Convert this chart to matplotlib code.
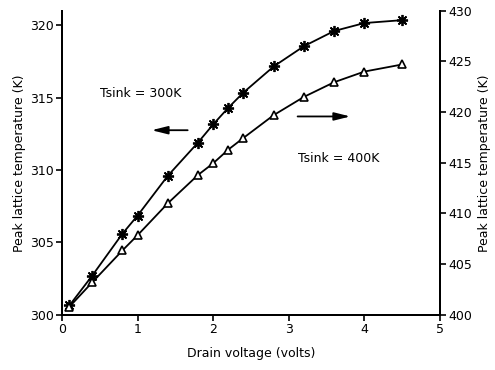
import matplotlib
matplotlib.use("Agg")
import matplotlib.pyplot as plt

# drain voltage (volts)
vd = [0.1, 0.4, 0.8, 1.0, 1.4, 1.8, 2.0, 2.2, 2.4, 2.8, 3.2, 3.6, 4.0, 4.5]
# peak lattice temperature, Tsink = 300K (left axis)
t300 = [300.65, 302.7, 305.6, 306.85, 309.6, 311.9, 313.15, 314.3, 315.35,
        317.15, 318.55, 319.6, 320.15, 320.35]
# peak lattice temperature, Tsink = 400K (right axis)
t400 = [400.8, 403.2, 406.35, 407.85, 411.0, 413.8, 414.95, 416.3, 417.45,
        419.7, 421.5, 422.95, 424.0, 424.7]

xticks = [0, 1, 2, 3, 4, 5]
lticks = [300, 305, 310, 315, 320]
rticks = [400, 405, 410, 415, 420, 425, 430]

plt.rcParams['font.family'] = ['DejaVu Sans']
plt.rcParams['font.size'] = 9

fig = plt.figure(figsize=(4.95, 3.7), dpi=100)
ax = fig.add_axes([0.125, 0.149, 0.764, 0.822])
ax2 = ax.twinx()

# left curve: asterisks
ax.plot(vd, t300, color='black', lw=1.3, marker=(8, 2, 0), ms=8,
        mew=1.3, mec='black')
ax.plot(vd, t300, ls='none', marker='o', ms=3, color='black')
# right curve: open triangles
ax2.plot(vd, t400, color='black', lw=1.3, marker='^', ms=6,
         mfc='white', mec='black', mew=1.2)

ax.set_xlim(0, 5)
ax.set_ylim(300, 321)
ax2.set_ylim(400, 430)
ax.set_xticks(xticks)
ax.set_yticks(lticks)
ax2.set_yticks(rticks)

for a in (ax, ax2):
    a.spines['top'].set_visible(False)
    for s in ('left', 'right', 'bottom'):
        a.spines[s].set_linewidth(1.4)
    a.tick_params(direction='out', length=4, width=1.2, pad=2, labelsize=9)

ax.set_xlabel("Drain voltage (volts)", labelpad=8)
ax.set_ylabel("Peak lattice temperature (K)", labelpad=3)
ax2.set_ylabel("Peak lattice temperature (K)", labelpad=4, rotation=90)

# annotations
ax.text(0.5, 315.3, "Tsink = 300K", va='center', ha='left')
ax.annotate("", xy=(1.15, 312.75), xytext=(1.7, 312.75),
            arrowprops=dict(arrowstyle='-|>,head_length=0.8,head_width=0.2',
                            color='black', lw=1.3, mutation_scale=12))
ax.text(3.12, 310.8, "Tsink = 400K", va='center', ha='left')
ax.annotate("", xy=(3.85, 313.7), xytext=(3.08, 313.7),
            arrowprops=dict(arrowstyle='-|>,head_length=0.8,head_width=0.2',
                            color='black', lw=1.3, mutation_scale=12))

fig.savefig("out.png", dpi=100)
